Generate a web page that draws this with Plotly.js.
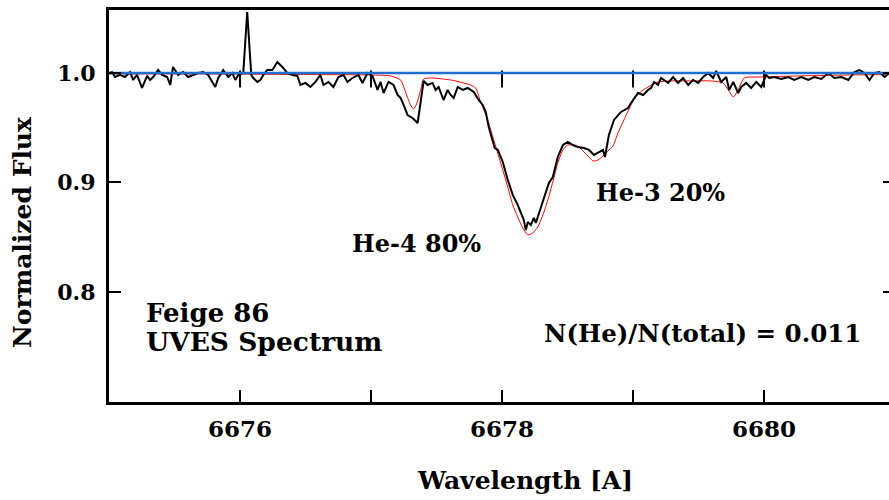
<!DOCTYPE html>
<html>
<head>
<meta charset="utf-8">
<script src="https://cdn.plot.ly/plotly-3.0.1.min.js"></script>
<style>html,body{margin:0;padding:0;overflow:hidden;background:#fff;}#chart{width:905px;height:500px;}</style>
</head>
<body>
<div id="chart"></div>
<script>
// Observed UVES spectrum (wavelength in A, normalized flux)
const obsWave = [6675.000,6675.008,6675.023,6675.046,6675.084,6675.122,6675.161,6675.184,6675.214,6675.252,6675.291,6675.314,6675.337,6675.375,6675.405,6675.444,6675.467,6675.489,6675.528,6675.566,6675.604,6675.642,6675.681,6675.719,6675.757,6675.811,6675.834,6675.872,6675.910,6675.941,6675.964,6675.987,6676.025,6676.055,6676.086,6676.101,6676.132,6676.155,6676.178,6676.208,6676.247,6676.285,6676.323,6676.361,6676.400,6676.438,6676.461,6676.499,6676.537,6676.576,6676.614,6676.637,6676.675,6676.713,6676.751,6676.790,6676.820,6676.858,6676.904,6676.935,6676.973,6677.011,6677.050,6677.073,6677.096,6677.134,6677.172,6677.203,6677.226,6677.249,6677.279,6677.317,6677.356,6677.402,6677.432,6677.470,6677.493,6677.516,6677.554,6677.585,6677.608,6677.631,6677.662,6677.700,6677.738,6677.784,6677.822,6677.853,6677.876,6677.899,6677.929,6677.944,6677.968,6678.006,6678.044,6678.082,6678.120,6678.143,6678.166,6678.182,6678.197,6678.220,6678.243,6678.258,6678.273,6678.296,6678.319,6678.358,6678.388,6678.426,6678.465,6678.503,6678.541,6678.579,6678.625,6678.664,6678.702,6678.740,6678.771,6678.786,6678.816,6678.855,6678.908,6678.962,6678.985,6679.038,6679.077,6679.115,6679.138,6679.161,6679.191,6679.214,6679.268,6679.306,6679.344,6679.382,6679.421,6679.459,6679.497,6679.535,6679.574,6679.612,6679.635,6679.673,6679.712,6679.734,6679.765,6679.803,6679.826,6679.864,6679.902,6679.941,6679.979,6680.017,6680.040,6680.078,6680.132,6680.185,6680.231,6680.285,6680.338,6680.384,6680.438,6680.491,6680.537,6680.591,6680.644,6680.690,6680.728,6680.767,6680.805,6680.843,6680.881,6680.920,6680.958,6681.000];
const obsFlux = [1.0000,1.0000,1.0009,0.9963,0.9982,0.9963,1.0009,0.9936,0.9982,0.9863,0.9973,0.9936,0.9963,1.0027,0.9982,0.9963,0.9890,1.0055,0.9982,1.0009,0.9963,0.9982,1.0000,1.0009,0.9982,0.9872,0.9954,1.0027,0.9963,1.0000,0.9936,0.9982,1.0000,1.0557,0.9982,0.9954,0.9918,0.9936,0.9982,1.0027,1.0027,1.0100,1.0055,1.0000,0.9982,0.9973,0.9890,0.9909,0.9872,0.9918,0.9982,0.9890,0.9918,0.9872,0.9963,0.9982,0.9918,0.9954,0.9982,0.9909,1.0000,0.9973,0.9845,0.9918,0.9817,0.9918,0.9890,0.9799,0.9772,0.9708,0.9616,0.9589,0.9543,0.9927,0.9890,0.9909,0.9845,0.9872,0.9753,0.9845,0.9799,0.9772,0.9872,0.9845,0.9863,0.9826,0.9753,0.9708,0.9644,0.9507,0.9388,0.9315,0.9297,0.9187,0.9023,0.8886,0.8795,0.8721,0.8658,0.8566,0.8639,0.8612,0.8676,0.8630,0.8685,0.8767,0.8868,0.8995,0.9050,0.9233,0.9342,0.9370,0.9342,0.9324,0.9315,0.9297,0.9251,0.9279,0.9297,0.9233,0.9434,0.9571,0.9644,0.9680,0.9726,0.9817,0.9799,0.9845,0.9863,0.9918,0.9890,0.9954,0.9909,0.9963,0.9909,0.9954,0.9890,0.9936,0.9909,0.9963,1.0000,0.9954,1.0018,0.9918,0.9963,0.9845,0.9918,0.9817,0.9872,0.9909,0.9863,0.9918,0.9872,0.9982,0.9954,0.9963,0.9945,0.9963,0.9936,0.9963,0.9936,0.9963,0.9945,1.0000,0.9954,0.9963,0.9936,1.0009,1.0027,1.0000,0.9936,1.0000,1.0009,0.9963,1.0000,0.9982];

// Model spectrum (He-4 80%, He-3 20%)
const modelWave = [6675.000,6675.696,6676.461,6676.996,6677.149,6677.226,6677.264,6677.302,6677.325,6677.348,6677.379,6677.402,6677.455,6677.608,6677.761,6677.799,6677.837,6677.891,6677.937,6677.990,6678.044,6678.082,6678.120,6678.159,6678.197,6678.235,6678.273,6678.312,6678.350,6678.388,6678.426,6678.465,6678.503,6678.549,6678.587,6678.625,6678.664,6678.694,6678.732,6678.771,6678.809,6678.847,6678.885,6678.931,6678.985,6679.038,6679.115,6679.191,6679.291,6679.444,6679.597,6679.688,6679.727,6679.765,6679.803,6679.849,6679.979,6680.285,6680.667,6681.000];
const modelFlux = [0.9991,0.9991,0.9986,0.9982,0.9973,0.9936,0.9826,0.9708,0.9671,0.9717,0.9845,0.9945,0.9954,0.9936,0.9890,0.9863,0.9735,0.9571,0.9388,0.9178,0.8959,0.8795,0.8685,0.8584,0.8521,0.8539,0.8594,0.8703,0.8840,0.9005,0.9178,0.9297,0.9342,0.9342,0.9324,0.9279,0.9233,0.9196,0.9205,0.9242,0.9288,0.9333,0.9452,0.9571,0.9708,0.9808,0.9872,0.9918,0.9927,0.9927,0.9927,0.9909,0.9845,0.9781,0.9845,0.9954,0.9963,0.9973,0.9982,0.9986];

// Continuum level
const contWave = [6675.0, 6681.0];
const contFlux = [1.0, 1.0];

// Line identification marks along the wavelength axis
const lineWave = [6677.32,6677.65,6677.66,6677.83,6678.17,6678.30,6678.67,6678.85,6678.92,6679.37,6679.59,6679.69,6679.77];
const lineMarkFlux = 0.6977;

// Axis ticks
const xTickVals = [6676, 6677, 6678, 6679, 6680];
const xTickText = ['6676', '', '6678', '', '6680'];
const yTickVals = [0.8, 0.9, 1.0];
const yTickText = ['0.8', '0.9', '1.0'];
const xRange = [6675, 6681];
const yRange = [0.6995, 1.0575];
// level of the continuum reference axis and its tick centre just below it
const contTickFlux = 0.9945;

const F = 'DejaVu Serif';
const traces = [
  {x: xTickVals, y: xTickVals.map(() => contTickFlux), xaxis: 'x2', type: 'scatter', mode: 'markers',
   marker: {symbol: 'line-ns', size: 12, line: {color: '#000', width: 2}}, hoverinfo: 'skip'},
  {x: modelWave, y: modelFlux, xaxis: 'x2', type: 'scatter', mode: 'lines', line: {color: '#ff0000', width: 1, shape: 'spline', smoothing: 0.6}, hoverinfo: 'skip'},
  {x: obsWave, y: obsFlux, xaxis: 'x2', type: 'scatter', mode: 'lines', line: {color: '#000000', width: 2}, hoverinfo: 'skip'},
  {x: lineWave, y: lineWave.map(() => lineMarkFlux), type: 'scatter', mode: 'markers', cliponaxis: false,
   marker: {symbol: 'line-ns', size: 5, line: {color: '#ff0000', width: 1}}, hoverinfo: 'skip'},
  {x: contWave, y: contFlux, xaxis: 'x2', type: 'scatter', mode: 'lines', line: {color: '#1f6fd2', width: 2.5}, hoverinfo: 'skip'}
];

const linePos = (1.0 - yRange[0]) / (yRange[1] - yRange[0]);

const layout = {
  width: 905, height: 500,
  margin: {l: 109, r: 10, t: 10, b: 98},
  paper_bgcolor: '#ffffff', plot_bgcolor: '#ffffff',
  showlegend: false,
  xaxis: {
    range: xRange, tickmode: 'array', tickvals: xTickVals, ticktext: xTickText,
    ticks: 'inside', ticklen: 12, tickwidth: 2, tickcolor: '#000',
    showline: true, linecolor: '#000', linewidth: 3, mirror: true,
    showgrid: false, zeroline: false,
    tickfont: {family: F, size: 23, color: '#000', weight: 'bold'},
    ticklabelstandoff: 4
  },
  xaxis2: {
    matches: 'x', overlaying: 'x', anchor: 'free', position: linePos, side: 'top',
    showticklabels: false, ticks: '',
    showline: true, linecolor: '#000', linewidth: 2, layer: 'below traces',
    showgrid: false, zeroline: false
  },
  yaxis: {
    range: yRange, tickmode: 'array', tickvals: yTickVals, ticktext: yTickText,
    ticks: 'inside', ticklen: 12, tickwidth: 2, tickcolor: '#000',
    showline: true, linecolor: '#000', linewidth: 3, mirror: 'ticks',
    showgrid: false, zeroline: false,
    tickfont: {family: F, size: 22, color: '#000', weight: 'bold'},
    ticklabelstandoff: 6
  },
  annotations: [
    {text: 'Normalized Flux', xref: 'paper', yref: 'paper', x: -0.1094, y: 0.4337, textangle: -90,
     showarrow: false, xanchor: 'center', yanchor: 'middle', font: {family: F, size: 25, color: '#000', weight: 'bold'}},
    {text: 'Wavelength [A]', xref: 'paper', yref: 'paper', x: 0.5293, y: -0.2015,
     showarrow: false, xanchor: 'center', yanchor: 'middle', font: {family: F, size: 25, color: '#000', weight: 'bold'}},
    {text: 'He-4 80%', xref: 'paper', yref: 'paper', x: 0.3066, y: 0.4056,
     showarrow: false, xanchor: 'left', yanchor: 'middle', font: {family: F, size: 24, color: '#000', weight: 'bold'}},
    {text: 'He-3 20%', xref: 'paper', yref: 'paper', x: 0.6171, y: 0.5357,
     showarrow: false, xanchor: 'left', yanchor: 'middle', font: {family: F, size: 24, color: '#000', weight: 'bold'}},
    {text: 'Feige 86', xref: 'paper', yref: 'paper', x: 0.0445, y: 0.227,
     showarrow: false, xanchor: 'left', yanchor: 'middle', font: {family: F, size: 26, color: '#000', weight: 'bold'}},
    {text: 'UVES Spectrum', xref: 'paper', yref: 'paper', x: 0.0445, y: 0.1556,
     showarrow: false, xanchor: 'left', yanchor: 'middle', font: {family: F, size: 26.5, color: '#000', weight: 'bold'}},
    {text: 'N(He)/N(total) = 0.011', xref: 'paper', yref: 'paper', x: 0.5509, y: 0.1735,
     showarrow: false, xanchor: 'left', yanchor: 'middle', font: {family: F, size: 24.5, color: '#000', weight: 'bold'}}
  ]
};

Plotly.newPlot('chart', traces, layout, {displayModeBar: false, staticPlot: true});
</script>
</body>
</html>
